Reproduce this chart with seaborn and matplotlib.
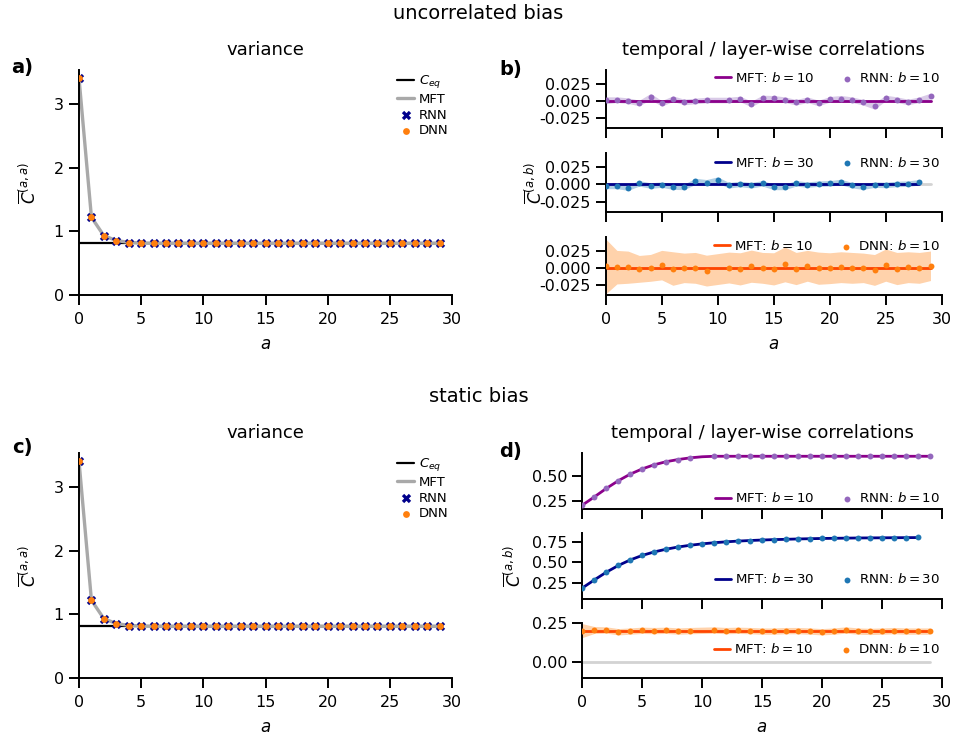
import numpy as np
import matplotlib
matplotlib.use("Agg")
import matplotlib.pyplot as plt
import seaborn as sns
from matplotlib.ticker import FormatStrFormatter

# ---------------- data ----------------
a_var = list(range(30))
c_eq = 0.81
var_mft = [3.40, 1.22, 0.93, 0.855, 0.825, 0.815, 0.81, 0.81, 0.81, 0.81,
           0.81, 0.81, 0.81, 0.81, 0.81, 0.81, 0.81, 0.81, 0.81, 0.81,
           0.81, 0.81, 0.81, 0.81, 0.81, 0.81, 0.81, 0.81, 0.81, 0.81]
var_rnn = [3.40, 1.22, 0.93, 0.855, 0.82, 0.81, 0.81, 0.81, 0.81, 0.81,
           0.81, 0.81, 0.81, 0.81, 0.81, 0.81, 0.81, 0.81, 0.81, 0.81,
           0.81, 0.81, 0.81, 0.81, 0.81, 0.81, 0.81, 0.81, 0.81, 0.81]
var_dnn = [3.40, 1.22, 0.93, 0.85, 0.82, 0.81, 0.81, 0.81, 0.81, 0.81,
           0.81, 0.81, 0.81, 0.81, 0.81, 0.81, 0.81, 0.81, 0.81, 0.81,
           0.81, 0.81, 0.81, 0.81, 0.81, 0.81, 0.81, 0.81, 0.81, 0.81]

a_all = list(range(30))
a_b10 = [0, 1, 2, 3, 4, 5, 6, 7, 8, 9, 11, 12, 13, 14, 15, 16, 17, 18, 19,
         20, 21, 22, 23, 24, 25, 26, 27, 28, 29]
a_b30 = list(range(29))
zero_ref = [0.0] * 30

# uncorrelated bias
unc_mft_b10 = [0.0] * 30
unc_mft_b30 = [0.0] * 29
unc_rnn_b10 = [0.001, 0.0019, 0.0005, -0.0029, 0.0063, -0.0034, 0.0034, -0.0014, 0.0, 0.0014,
               0.0014, 0.0029, -0.0043, 0.0043, 0.0038, 0.0019, -0.0019, 0.0019, -0.0029,
               0.0024, 0.0034, 0.0019, -0.0019, -0.0072, 0.0043, 0.0019, -0.0014, 0.0019, 0.0072]
unc_rnn_b10_sd = [0.005, 0.004, 0.004, 0.004, 0.0045, 0.004, 0.004, 0.004, 0.004, 0.004,
                  0.004, 0.004, 0.004, 0.004, 0.004, 0.004, 0.004, 0.004, 0.004,
                  0.004, 0.0045, 0.004, 0.004, 0.0045, 0.004, 0.004, 0.004, 0.004, 0.004]
unc_rnn_b30 = [-0.0024, -0.0024, -0.0048, 0.0014, -0.0019, -0.0005, -0.0034, -0.0038, 0.0043, 0.0024,
               0.0063, -0.0014, 0.0005, -0.0014, 0.0014, -0.0038, -0.0038, 0.0014, -0.0005, 0.001,
               0.0014, 0.0034, -0.0014, -0.0034, -0.0005, -0.001, 0.0005, 0.001, 0.0029]
unc_rnn_b30_sd = [0.004, 0.004, 0.004, 0.004, 0.004, 0.004, 0.004, 0.004, 0.0045, 0.0045,
                  0.0045, 0.004, 0.004, 0.004, 0.004, 0.004, 0.004, 0.004, 0.004, 0.004,
                  0.004, 0.004, 0.004, 0.004, 0.004, 0.004, 0.004, 0.004, 0.004]
unc_mft_dnn_b10 = [0.0] * 30
unc_dnn_b10 = [0.0026, 0.0015, 0.0015, -0.001, 0.0005, 0.0046, -0.0005, 0.0005, 0.0005, -0.0036,
               0.001, -0.001, 0.003, 0.0005, -0.001, 0.0057, -0.0005, 0.0036, 0.0,
               0.0, 0.0015, 0.0005, 0.0005, -0.0026, 0.0046, -0.0005, 0.0015, 0.0005, 0.0036]
unc_dnn_b10_sd = [0.041, 0.025, 0.024, 0.020, 0.020, 0.022, 0.025, 0.022, 0.023, 0.023,
                  0.023, 0.024, 0.024, 0.023, 0.024, 0.026, 0.024, 0.023, 0.024,
                  0.023, 0.023, 0.023, 0.022, 0.023, 0.024, 0.024, 0.023, 0.023, 0.022]

# static bias
sta_mft_b10 = [0.205, 0.288, 0.374, 0.452, 0.519, 0.572, 0.614, 0.645, 0.667, 0.684,
               0.695, 0.70, 0.70, 0.70, 0.70, 0.70, 0.70, 0.70, 0.70, 0.70,
               0.70, 0.70, 0.70, 0.70, 0.70, 0.70, 0.70, 0.70, 0.70, 0.70]
sta_rnn_b10 = [0.206, 0.287, 0.375, 0.453, 0.520, 0.571, 0.615, 0.642, 0.666, 0.682,
               0.702, 0.702, 0.702, 0.702, 0.702, 0.702, 0.702, 0.702, 0.702,
               0.702, 0.702, 0.702, 0.702, 0.702, 0.702, 0.702, 0.702, 0.702, 0.702]
sta_rnn_b10_sd = [0.002] * 29
sta_mft_b30 = [0.185, 0.283, 0.377, 0.459, 0.527, 0.582, 0.625, 0.658, 0.685, 0.706,
               0.723, 0.737, 0.748, 0.757, 0.764, 0.770, 0.775, 0.779, 0.783, 0.786,
               0.789, 0.791, 0.793, 0.795, 0.796, 0.797, 0.798, 0.799, 0.800]
sta_rnn_b30 = [0.185, 0.283, 0.378, 0.460, 0.527, 0.583, 0.624, 0.657, 0.684, 0.706,
               0.723, 0.736, 0.747, 0.757, 0.764, 0.770, 0.775, 0.779, 0.783, 0.786,
               0.789, 0.792, 0.794, 0.795, 0.797, 0.798, 0.799, 0.800, 0.801]
sta_rnn_b30_sd = [0.002] * 29
sta_mft_dnn_b10 = [0.20] * 30
sta_dnn_b10 = [0.200, 0.204, 0.204, 0.193, 0.197, 0.202, 0.200, 0.202, 0.197, 0.200,
               0.204, 0.200, 0.202, 0.200, 0.197, 0.197, 0.200, 0.200, 0.197,
               0.193, 0.197, 0.204, 0.197, 0.195, 0.197, 0.200, 0.197, 0.197, 0.197]
sta_dnn_b10_sd = [0.044, 0.022, 0.020, 0.020, 0.020, 0.020, 0.020, 0.020, 0.020, 0.020,
                  0.020, 0.020, 0.020, 0.020, 0.020, 0.020, 0.020, 0.020, 0.020,
                  0.020, 0.020, 0.020, 0.020, 0.020, 0.020, 0.020, 0.020, 0.020, 0.020]

# ---------------- style ----------------
sns.set_theme(style="ticks", rc={
    "axes.linewidth": 1.4, "xtick.major.width": 1.4, "ytick.major.width": 1.4,
    "xtick.major.size": 7, "ytick.major.size": 7,
    "xtick.labelsize": 11.5, "ytick.labelsize": 11.5,
    "xtick.major.pad": 5.0, "ytick.major.pad": 4.0,
    "axes.edgecolor": "black", "xtick.color": "black", "ytick.color": "black",
    "text.color": "black", "axes.labelcolor": "black",
})
plt.rcParams["font.family"] = ["DejaVu Sans"]
plt.rcParams["mathtext.fontset"] = "dejavusans"

W, H = 957, 738
fig = plt.figure(figsize=(W / 100, H / 100), dpi=100)


def add_ax(l, t, r, b):
    return fig.add_axes([l / W, 1 - b / H, (r - l) / W, (b - t) / H])


def ftext(x, y, s, **kw):
    fig.text(x / W, 1 - y / H, s, **kw)


def variance_panel(ax, mft, rnn, dnn):
    sns.lineplot(x=a_var, y=[c_eq] * len(a_var), color="black", lw=1.6, ax=ax,
                 label="$C_{eq}$", zorder=1)
    sns.lineplot(x=a_var, y=mft, color="darkgray", lw=2.4, ax=ax, label="MFT", zorder=2)
    sns.scatterplot(x=a_var, y=rnn, marker="X", color="darkblue", s=45, linewidth=0,
                    ax=ax, label="RNN", zorder=3)
    sns.scatterplot(x=a_var, y=dnn, marker="o", color="#ff7f0e", s=24, linewidth=0,
                    ax=ax, label="DNN", zorder=4)
    ax.set_xlim(0, 30)
    ax.set_ylim(0, 3.53)
    ax.set_xticks(range(0, 31, 5))
    ax.set_yticks([0, 1, 2, 3])
    ax.set_xlabel("")
    ax.set_ylabel("")
    h, l = ax.get_legend_handles_labels()
    ax.legend(h, l, loc="upper right", bbox_to_anchor=(1.0, 1.0), borderaxespad=0,
              frameon=False, fontsize=9.5, handlelength=1.3, handletextpad=0.35,
              labelspacing=0.2, borderpad=0.25)
    ax.set_title("variance", fontsize=13, pad=11)
    sns.despine(ax=ax)


def corr_panel(ax, x_line, y_line, x_pts, y_pts, sd, lc, pc, lab_line, lab_pts,
               ylim, yticks, fmt, leg_frac, show_xlabels):
    sns.lineplot(x=a_all, y=zero_ref, color="lightgray", lw=2, ax=ax, zorder=0)
    yp = np.array(y_pts)
    sdv = np.array(sd)
    ax.fill_between(x_pts, yp - sdv, yp + sdv, color=pc, alpha=0.35, lw=0, zorder=1)
    sns.lineplot(x=x_line, y=y_line, color=lc, lw=2, ax=ax, label=lab_line, zorder=2)
    sns.scatterplot(x=x_pts, y=y_pts, color=pc, s=18, linewidth=0, ax=ax,
                    label=lab_pts, zorder=3)
    ax.set_xlim(0, 30)
    ax.set_ylim(*ylim)
    ax.set_xticks(range(0, 31, 5))
    ax.set_yticks(yticks)
    ax.yaxis.set_major_formatter(FormatStrFormatter(fmt))
    ax.set_xlabel("")
    ax.set_ylabel("")
    if not show_xlabels:
        ax.tick_params(labelbottom=False)
    h, l = ax.get_legend_handles_labels()
    ax.legend(h, l, loc="center right", bbox_to_anchor=(1.0, leg_frac), borderaxespad=0,
              ncol=2, frameon=False, fontsize=9.6, handlelength=1.2, handletextpad=0.25,
              columnspacing=1.9, borderpad=0.15)
    sns.despine(ax=ax)


def frac(top, bottom, y):
    return (bottom - y) / (bottom - top)


# ---------------- top row: uncorrelated bias ----------------
ftext(478.5, 19, "uncorrelated bias", ha="center", va="baseline", fontsize=14)

ax_a = add_ax(79, 70, 452, 295)
variance_panel(ax_a, var_mft, var_rnn, var_dnn)

b_l, b_r = 605.7, 941.7
ax_b1 = add_ax(b_l, 70, b_r, 128)
corr_panel(ax_b1, a_all, unc_mft_b10, a_b10, unc_rnn_b10, unc_rnn_b10_sd,
           "darkmagenta", "#9467bd", "MFT: $b = 10$", "RNN: $b = 10$",
           (-0.0386, 0.0443), [-0.025, 0.0, 0.025], "%.3f", frac(70, 128, 78), False)
ax_b1.set_title("temporal / layer-wise correlations", fontsize=13, pad=11)
ax_b2 = add_ax(b_l, 153.3, b_r, 211.7)
corr_panel(ax_b2, a_b30, unc_mft_b30, a_b30, unc_rnn_b30, unc_rnn_b30_sd,
           "darkblue", "#1f77b4", "MFT: $b = 30$", "RNN: $b = 30$",
           (-0.0398, 0.045), [-0.025, 0.0, 0.025], "%.3f", frac(153.3, 211.7, 162.7), False)
ax_b3 = add_ax(b_l, 236.7, b_r, 295)
corr_panel(ax_b3, a_all, unc_mft_dnn_b10, a_b10, unc_dnn_b10, unc_dnn_b10_sd,
           "orangered", "#ff7f0e", "MFT: $b = 10$", "DNN: $b = 10$",
           (-0.040, 0.047), [-0.025, 0.0, 0.025], "%.3f", frac(236.7, 295, 246), True)

ftext(22, 67, "a)", ha="center", va="center", fontsize=14, fontweight="bold")
ftext(511, 70, "b)", ha="center", va="center", fontsize=14, fontweight="bold")
ftext(29, 183, r"$\overline{C}^{(a,a)}$", ha="center", va="center", rotation=90, fontsize=12)
ftext(535, 183, r"$\overline{C}^{(a,b)}$", ha="center", va="center", rotation=90, fontsize=12)
ftext(265.5, 349, "$a$", ha="center", va="baseline", fontsize=12)
ftext(773.7, 349, "$a$", ha="center", va="baseline", fontsize=12)

# ---------------- bottom row: static bias ----------------
ftext(478.5, 402, "static bias", ha="center", va="baseline", fontsize=14)

ax_c = add_ax(79, 453, 452, 678)
variance_panel(ax_c, var_mft, var_rnn, var_dnn)

d_l, d_r = 582.3, 941.7
ax_d1 = add_ax(d_l, 453.3, d_r, 509.3)
corr_panel(ax_d1, a_all, sta_mft_b10, a_b10, sta_rnn_b10, sta_rnn_b10_sd,
           "darkmagenta", "#9467bd", "MFT: $b = 10$", "RNN: $b = 10$",
           (0.163, 0.73), [0.25, 0.50], "%.2f", frac(453.3, 509.3, 498.3), False)
ax_d1.set_title("temporal / layer-wise correlations", fontsize=13, pad=11)
ax_d2 = add_ax(d_l, 533.3, d_r, 599.3)
corr_panel(ax_d2, a_b30, sta_mft_b30, a_b30, sta_rnn_b30, sta_rnn_b30_sd,
           "darkblue", "#1f77b4", "MFT: $b = 30$", "RNN: $b = 30$",
           (0.047, 0.852), [0.25, 0.50, 0.75], "%.2f", frac(533.3, 599.3, 579.3), False)
ax_d3 = add_ax(d_l, 622.7, d_r, 678.3)
corr_panel(ax_d3, a_all, sta_mft_dnn_b10, a_b10, sta_dnn_b10, sta_dnn_b10_sd,
           "orangered", "#ff7f0e", "MFT: $b = 10$", "DNN: $b = 10$",
           (-0.101, 0.25), [0.0, 0.25], "%.2f", frac(622.7, 678.3, 649.3), True)

ftext(22, 448, "c)", ha="center", va="center", fontsize=14, fontweight="bold")
ftext(511, 452, "d)", ha="center", va="center", fontsize=14, fontweight="bold")
ftext(29, 566, r"$\overline{C}^{(a,a)}$", ha="center", va="center", rotation=90, fontsize=12)
ftext(514, 566, r"$\overline{C}^{(a,b)}$", ha="center", va="center", rotation=90, fontsize=12)
ftext(265.5, 732, "$a$", ha="center", va="baseline", fontsize=12)
ftext(762, 732, "$a$", ha="center", va="baseline", fontsize=12)

fig.savefig("out.png", dpi=100)
